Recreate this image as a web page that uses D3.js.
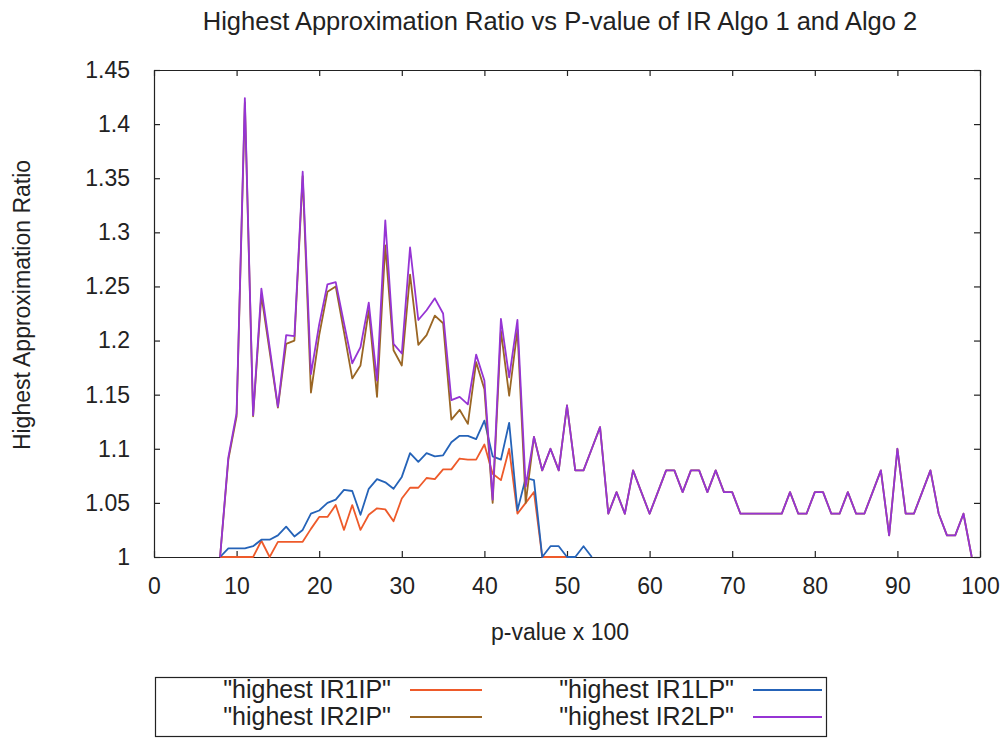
<!DOCTYPE html>
<html>
<head>
<meta charset="utf-8">
<script src="https://cdn.jsdelivr.net/npm/d3@7"></script>
<style>
  body { margin: 0; background: #fff; }
  svg text { font-family: "Liberation Sans", Arial, sans-serif; fill: #222; }
</style>
</head>
<body>
<svg id="chart" width="1004" height="738"></svg>
<script>
// p-values (x 100) for each series
const pIR1IP = [8,9,10,11,12,13,14,15,16,17,18,19,20,21,22,23,24,25,26,27,28,29,30,31,32,33,34,35,36,37,38,39,40,41,42,43,44,45,46,47,48,49,50];
const vIR1IP = [1,1,1,1,1,1.015,1,1.014,1.014,1.014,1.014,1.026,1.037,1.037,1.048,1.025,1.048,1.025,1.039,1.045,1.044,1.033,1.054,1.064,1.064,1.073,1.072,1.081,1.081,1.091,1.09,1.09,1.104,1.077,1.071,1.1,1.04,1.05,1.06,1,1,1,1];

const pIR1LP = [8,9,10,11,12,13,14,15,16,17,18,19,20,21,22,23,24,25,26,27,28,29,30,31,32,33,34,35,36,37,38,39,40,41,42,43,44,45,46,47,48,49,50,51,52,53];
const vIR1LP = [1,1.008,1.008,1.008,1.01,1.016,1.016,1.02,1.028,1.019,1.025,1.04,1.043,1.05,1.053,1.062,1.061,1.039,1.063,1.072,1.069,1.063,1.074,1.096,1.088,1.096,1.093,1.094,1.106,1.112,1.112,1.109,1.126,1.093,1.09,1.124,1.043,1.073,1.071,1,1.01,1.01,1,1,1.01,1];

const pIR2 = d3.range(8, 100);
const vIR2LP = [1,1.092,1.133,1.424,1.131,1.248,1.194,1.139,1.205,1.204,1.356,1.169,1.215,1.252,1.254,1.216,1.179,1.194,1.235,1.163,1.311,1.197,1.188,1.286,1.219,1.228,1.239,1.225,1.145,1.148,1.141,1.187,1.163,1.053,1.22,1.166,1.219,1.065,1.111,1.08,1.1,1.08,1.14,1.08,1.08,1.1,1.12,1.04,1.06,1.04,1.08,1.06,1.04,1.06,1.08,1.08,1.06,1.08,1.08,1.06,1.08,1.06,1.06,1.04,1.04,1.04,1.04,1.04,1.04,1.06,1.04,1.04,1.06,1.06,1.04,1.04,1.06,1.04,1.04,1.06,1.08,1.02,1.1,1.04,1.04,1.06,1.08,1.04,1.02,1.02,1.04,1];
const vIR2IP = [1,1.09,1.13,1.42,1.13,1.242,1.19,1.138,1.197,1.2,1.352,1.152,1.205,1.245,1.25,1.208,1.165,1.177,1.228,1.148,1.288,1.191,1.177,1.261,1.196,1.205,1.223,1.216,1.127,1.136,1.123,1.18,1.155,1.05,1.209,1.149,1.21,1.05,1.111,1.08,1.1,1.08,1.14,1.08,1.08,1.1,1.12,1.04,1.06,1.04,1.08,1.06,1.04,1.06,1.08,1.08,1.06,1.08,1.08,1.06,1.08,1.06,1.06,1.04,1.04,1.04,1.04,1.04,1.04,1.06,1.04,1.04,1.06,1.06,1.04,1.04,1.06,1.04,1.04,1.06,1.08,1.02,1.1,1.04,1.04,1.06,1.08,1.04,1.02,1.02,1.04,1];

const xTicks = d3.range(0, 101, 10);
const yTicks = [1, 1.05, 1.1, 1.15, 1.2, 1.25, 1.3, 1.35, 1.4, 1.45];

const series = [
  { name: '"highest IR1IP"', p: pIR1IP, v: vIR1IP, color: "#ee5a2a" },
  { name: '"highest IR1LP"', p: pIR1LP, v: vIR1LP, color: "#2563b8" },
  { name: '"highest IR2IP"', p: pIR2, v: vIR2IP, color: "#9a6624" },
  { name: '"highest IR2LP"', p: pIR2, v: vIR2LP, color: "#9634d4" }
];

const svg = d3.select("#chart");
const plotL = 154, plotR = 980, plotT = 70, plotB = 557;

const x = d3.scaleLinear().domain([0, 100]).range([plotL, plotR]);
const y = d3.scaleLinear().domain([1, 1.45]).range([plotB, plotT]);

// Title
svg.append("text")
  .attr("x", 560).attr("y", 30)
  .attr("text-anchor", "middle")
  .attr("font-size", 25.5)
  .text("Highest Approximation Ratio vs P-value of IR Algo 1 and Algo 2");

// Axes (ticks inward, mirrored on top/right)
const fmtY = d => d3.format("")(+d.toFixed(2));
svg.append("g")
  .attr("transform", `translate(0,${plotB})`)
  .call(d3.axisBottom(x).tickValues(xTicks).tickSizeInner(-6).tickSizeOuter(0).tickPadding(21))
  .call(g => g.selectAll("text").attr("font-size", 23).attr("fill", "#222"));
svg.append("g")
  .attr("transform", `translate(${plotL},0)`)
  .call(d3.axisLeft(y).tickValues(yTicks).tickFormat(fmtY).tickSizeInner(-6).tickSizeOuter(0).tickPadding(24))
  .call(g => g.selectAll("text").attr("font-size", 23).attr("fill", "#222"));
svg.append("g")
  .attr("transform", `translate(0,${plotT})`)
  .call(d3.axisTop(x).tickValues(xTicks).tickSizeInner(-6).tickSizeOuter(0).tickFormat(""));
svg.append("g")
  .attr("transform", `translate(${plotR},0)`)
  .call(d3.axisRight(y).tickValues(yTicks).tickSizeInner(-6).tickSizeOuter(0).tickFormat(""));
svg.selectAll(".domain, .tick line").attr("stroke", "#222").attr("stroke-width", 1.2);

// Axis titles
svg.append("text")
  .attr("x", 560).attr("y", 640)
  .attr("text-anchor", "middle")
  .attr("font-size", 23)
  .text("p-value x 100");
svg.append("text")
  .attr("transform", "translate(30,305) rotate(-90)")
  .attr("text-anchor", "middle")
  .attr("font-size", 23)
  .text("Highest Approximation Ratio");

// Lines
const line = d3.line().x(d => x(d[0])).y(d => y(d[1]));
series.forEach(s => {
  svg.append("path")
    .datum(s.p.map((p, i) => [p, s.v[i]]))
    .attr("d", line)
    .attr("fill", "none")
    .attr("stroke", s.color)
    .attr("stroke-width", 1.8)
    .attr("stroke-linejoin", "round");
});

// Legend
const legend = svg.append("g");
legend.append("rect")
  .attr("x", 155.5).attr("y", 677.5)
  .attr("width", 671).attr("height", 59)
  .attr("fill", "none").attr("stroke", "#222").attr("stroke-width", 1.2);

const cols = [
  { textX: 391, lineX: [410, 482] },
  { textX: 734, lineX: [753, 822] }
];
const rows = [690, 717];
const order = [[0, 0, 0], [1, 1, 0], [2, 0, 1], [3, 1, 1]];
order.forEach(([si, c, r]) => {
  const s = series[si];
  legend.append("text")
    .attr("x", cols[c].textX).attr("y", rows[r] + 8)
    .attr("text-anchor", "end")
    .attr("font-size", 25)
    .text(s.name);
  legend.append("line")
    .attr("x1", cols[c].lineX[0]).attr("x2", cols[c].lineX[1])
    .attr("y1", rows[r]).attr("y2", rows[r])
    .attr("stroke", s.color).attr("stroke-width", 1.8);
});
</script>
</body>
</html>
